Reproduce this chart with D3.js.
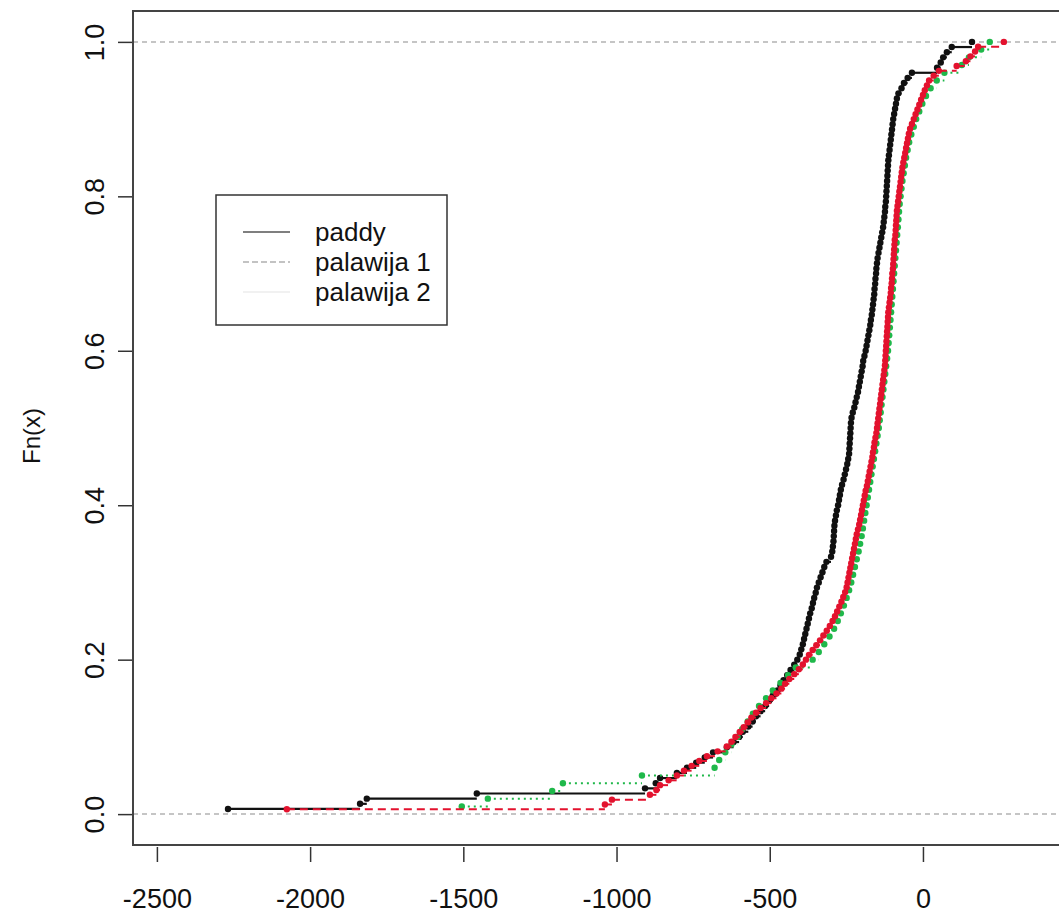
<!DOCTYPE html>
<html>
<head>
<meta charset="utf-8">
<script src="https://cdn.jsdelivr.net/npm/d3@7"></script>
<style>
  body { margin: 0; background: #fff; }
  text { font-family: "Liberation Sans", Arial, sans-serif; fill: #111; }
</style>
</head>
<body>
<div id="ecdf"></div>
<script>
// sample values (sorted)
const paddy = [
  -2268, -1837, -1815, -1456, -907, -872, -858, -803, -770, -740,
  -712, -685, -640, -618, -600, -588, -570, -556, -545, -530,
  -515, -502, -490, -475, -465, -455, -443, -432, -420, -410,
  -402, -397, -392, -388, -384, -380, -376, -372, -368, -363,
  -359, -355, -350, -346, -340, -334, -328, -322, -315, -300,
  -296, -294, -292, -291, -290, -289, -287, -284, -281, -277,
  -274, -271, -268, -264, -259, -255, -251, -247, -244, -241,
  -240, -239, -238, -237, -236, -235, -233, -229, -224, -220,
  -216, -212, -209, -206, -203, -200, -197, -195, -191, -187,
  -184, -181, -178, -175, -172, -170, -167, -165, -163, -161,
  -159, -158, -156, -155, -153, -152, -150, -148, -145, -142,
  -139, -136, -133, -130, -128, -126, -124, -123, -121, -120,
  -119, -118, -117, -116, -115, -114, -113, -111, -109, -107,
  -105, -103, -101, -99, -97, -94, -91, -88, -85, -80,
  -70, -62, -50, -36, 46, 58, 66, 78, 94, 160
];
const palawija1 = [
  -1505, -1420, -1210, -1175, -917, -680, -665, -645, -625, -605,
  -590, -572, -555, -535, -512, -490, -465, -440, -415, -360,
  -340, -322, -305, -290, -278, -268, -258, -249, -241, -234,
  -228, -222, -216, -210, -205, -200, -196, -192, -188, -184,
  -180, -176, -172, -168, -164, -160, -156, -152, -148, -144,
  -141, -138, -135, -132, -129, -126, -123, -120, -117, -114,
  -112, -110, -108, -106, -104, -102, -100, -98, -96, -94,
  -92, -90, -88, -86, -84, -82, -80, -78, -76, -73,
  -70, -67, -63, -59, -55, -50, -45, -38, -30, -22,
  -12, -2, 10, 25, 45, 70, 127, 150, 190, 218
];
const palawija2 = [
  -2076, -1038, -1015, -891, -870, -858, -830, -803, -780, -755,
  -730, -705, -670, -640, -625, -612, -598, -585, -572, -560,
  -545, -530, -512, -495, -478, -462, -450, -436, -420, -405,
  -392, -382, -372, -360, -348, -336, -325, -314, -304, -295,
  -287, -280, -273, -266, -260, -254, -249, -246, -243, -240,
  -237, -234, -231, -228, -225, -222, -219, -216, -212, -208,
  -205, -202, -199, -196, -193, -190, -187, -183, -180, -177,
  -174, -171, -168, -165, -163, -160, -158, -155, -152, -150,
  -148, -146, -144, -142, -140, -138, -136, -134, -132, -130,
  -128, -126, -124, -123, -122, -121, -120, -119, -118, -117,
  -116, -115, -114, -113, -111, -109, -107, -105, -104, -102,
  -101, -100, -98, -97, -96, -95, -94, -93, -92, -90,
  -89, -88, -87, -86, -85, -83, -81, -79, -77, -75,
  -73, -71, -69, -67, -64, -61, -58, -55, -52, -49,
  -46, -42, -36, -30, -24, -18, -12, -6, 0, 6,
  13, 20, 35, 52, 110, 140, 155, 170, 180, 264
];
const seriesNames = ["paddy", "palawija 1", "palawija 2"];
const xTicks = [-2500, -2000, -1500, -1000, -500, 0];
const xTickLabels = ["-2500", "-2000", "-1500", "-1000", "-500", "0"];
const yTicks = [0, 0.2, 0.4, 0.6, 0.8, 1.0];
const yTickLabels = ["0.0", "0.2", "0.4", "0.6", "0.8", "1.0"];

function ecdfPlot() {
  // set variables
  const W = 1059, H = 916;
  const box = {left: 133, right: 1097, top: 11, bottom: 845};
  let x = d3.scaleLinear().domain([-2578, 568]).range([box.left, box.right]);
  let y = d3.scaleLinear().domain([-0.04, 1.04]).range([box.bottom, box.top]);

  const styles = [
    {color: "#111", dash: null, width: 2.2},
    {color: "#1fb84a", dash: "2,4", width: 2},
    {color: "#e3122e", dash: "8,5", width: 2}
  ];

  let svg = d3.select("#ecdf")
    .append("svg")
    .attr("width", W)
    .attr("height", H);

  svg.append("defs").append("clipPath")
    .attr("id", "plotclip")
    .append("rect")
    .attr("x", box.left).attr("y", box.top)
    .attr("width", box.right - box.left)
    .attr("height", box.bottom - box.top);

  // x axis
  let xAxis = d3.axisBottom(x)
    .tickValues(xTicks)
    .tickSize(15)
    .tickPadding(27)
    .tickFormat((d, i) => xTickLabels[i]);

  let gx = svg.append("g")
    .attr("transform", `translate(0,${box.bottom + 2})`)
    .call(xAxis);
  gx.select(".domain").remove();
  gx.selectAll("line").attr("stroke", "#333").attr("stroke-width", 1.5);
  gx.selectAll("text")
    .style("font-size", "27px")
    .attr("fill", "#111");

  // y axis, labels turned like R does
  let yAxis = d3.axisLeft(y)
    .tickValues(yTicks)
    .tickSize(15)
    .tickFormat((d, i) => yTickLabels[i]);

  let gy = svg.append("g")
    .attr("transform", `translate(${box.left},0)`)
    .call(yAxis);
  gy.select(".domain").remove();
  gy.selectAll("line").attr("stroke", "#333").attr("stroke-width", 1.5);
  gy.selectAll("text")
    .attr("transform", "rotate(-90)")
    .attr("x", 0)
    .attr("y", -38)
    .attr("dy", "0.35em")
    .style("text-anchor", "middle")
    .style("font-size", "27px")
    .attr("fill", "#111");

  svg.append("text")
    .attr("transform", `translate(32,${y(0.5) + 8}) rotate(-90)`)
    .attr("dy", "0.35em")
    .style("text-anchor", "middle")
    .style("font-size", "24px")
    .text("Fn(x)");

  let plot = svg.append("g").attr("clip-path", "url(#plotclip)");

  // gray dashed lines at 0 and 1
  plot.selectAll("line.ref")
    .data([0, 1])
    .enter()
    .append("line")
    .attr("class", "ref")
    .attr("x1", box.left).attr("x2", box.right)
    .attr("y1", d => y(d)).attr("y2", d => y(d))
    .attr("stroke", "#b3b3b3")
    .attr("stroke-width", 1.5)
    .attr("stroke-dasharray", "5,4");

  // step functions: horizontal pieces and points, no verticals
  [paddy, palawija1, palawija2].forEach(function (vals, k) {
    const n = vals.length;
    const st = styles[k];
    let pts = vals.map((v, i) => ({x: v, f: (i + 1) / n}));
    let segs = pts.slice(0, -1).map((p, i) => ({x1: p.x, x2: pts[i + 1].x, f: p.f}));

    let g = plot.append("g");
    g.selectAll("line")
      .data(segs)
      .enter()
      .append("line")
      .attr("x1", d => x(d.x1)).attr("x2", d => x(d.x2))
      .attr("y1", d => y(d.f)).attr("y2", d => y(d.f))
      .attr("stroke", st.color)
      .attr("stroke-width", st.width)
      .attr("stroke-dasharray", st.dash);

    g.selectAll("circle")
      .data(pts)
      .enter()
      .append("circle")
      .attr("cx", d => x(d.x))
      .attr("cy", d => y(d.f))
      .attr("r", 3.2)
      .attr("fill", st.color);
  });

  // box
  svg.append("rect")
    .attr("x", box.left).attr("y", box.top)
    .attr("width", box.right - box.left)
    .attr("height", box.bottom - box.top)
    .attr("fill", "none")
    .attr("stroke", "#444")
    .attr("stroke-width", 2);

  // legend
  let legend = svg.append("g");
  legend.append("rect")
    .attr("x", 216).attr("y", 195)
    .attr("width", 231).attr("height", 130)
    .attr("fill", "#fff")
    .attr("stroke", "#333")
    .attr("stroke-width", 1.5);

  const legLine = [
    {color: "#555", dash: null},
    {color: "#b0b0b0", dash: "6,3"},
    {color: "#ececec", dash: null}
  ];
  seriesNames.forEach(function (name, i) {
    const cy = 232 + i * 30;
    legend.append("line")
      .attr("x1", 243).attr("x2", 290)
      .attr("y1", cy).attr("y2", cy)
      .attr("stroke", legLine[i].color)
      .attr("stroke-width", 1.5)
      .attr("stroke-dasharray", legLine[i].dash);
    legend.append("text")
      .attr("x", 315).attr("y", cy)
      .attr("dy", "0.35em")
      .style("font-size", "26px")
      .text(name);
  });
}

ecdfPlot();
</script>
</body>
</html>
